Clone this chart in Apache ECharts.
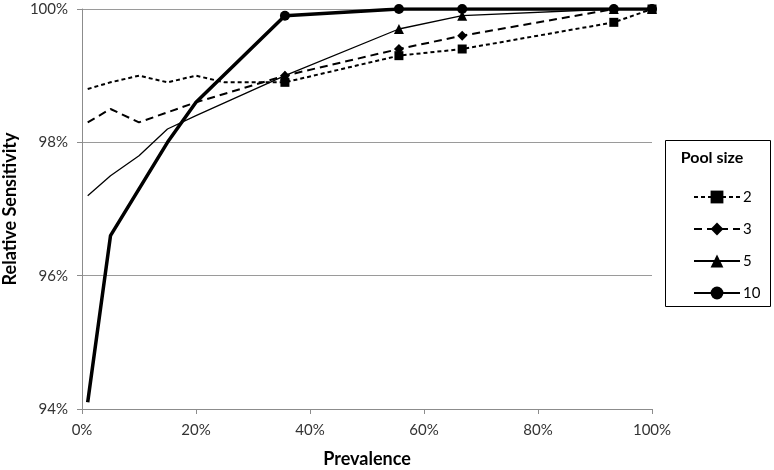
<!DOCTYPE html>
<html><head><meta charset="utf-8">
<script src="https://cdn.jsdelivr.net/npm/echarts@6/dist/echarts.min.js"></script>
<style>html,body{margin:0;padding:0;background:#fff}#c{width:774px;height:470px}</style>
</head><body><div id="c"></div>
<script>
const prevalence = [1, 5, 10, 15, 20, 25, 35.6, 55.6, 66.7, 93.3, 100];
const pool2  = [98.8, 98.9, 99.0, 98.9, 99.0, 98.9, 98.9, 99.3, 99.4, 99.8, 100];
const pool3  = [98.3, 98.5, 98.3, 98.45, 98.6, null, 99.0, 99.4, 99.6, 100, 100];
const pool5  = [97.2, 97.5, 97.8, 98.2, 98.4, null, 99.0, 99.7, 99.9, 100, 100];
const pool10 = [94.1, 96.6, null, 98.0, 98.6, null, 99.9, 100, 100, 100, 100];
const seriesNames = ['2', '3', '5', '10'];
const xTicks = [0, 20, 40, 60, 80, 100];
const yTicks = [94, 96, 98, 100];
const markerFrom = 6;

const FONT = "Lato, 'Open Sans', sans-serif";
function build(vals) {
  return vals.map((v, i) => v === null ? null : {
    value: [prevalence[i], v],
    symbol: i >= markerFrom ? undefined : 'none'
  }).filter(d => d !== null);
}
const chart = echarts.init(document.getElementById('c'), null, {renderer: 'canvas'});
const styles = [
  {data: pool2, symbol: 'rect', size: 9, width: 2, type: [4, 3], z: 5},
  {data: pool3, symbol: 'diamond', size: 10, width: 2, type: [8, 5], z: 3},
  {data: pool5, symbol: 'triangle', size: 10, width: 1.3, type: 'solid', z: 3},
  {data: pool10, symbol: 'circle', size: 10, width: 3.5, type: 'solid', z: 4}
];
chart.setOption({
  animation: false,
  grid: {left: 82, right: 122, top: 9, bottom: 61, containLabel: false, outerBoundsMode: 'none'},
  xAxis: {
    type: 'value', min: xTicks[0], max: xTicks[xTicks.length - 1], interval: xTicks[1] - xTicks[0],
    name: 'Prevalence', nameLocation: 'middle', nameGap: 41,
    nameTextStyle: {fontFamily: FONT, fontWeight: 'bold', fontSize: 18, color: '#000'},
    axisLine: {show: true, lineStyle: {color: '#8c8c8c'}},
    axisTick: {show: true, length: 5, lineStyle: {color: '#8c8c8c'}},
    axisLabel: {formatter: '{value}%', fontFamily: FONT, fontSize: 15, color: '#333', margin: 14},
    splitLine: {show: false}
  },
  yAxis: {
    type: 'value', min: yTicks[0], max: yTicks[yTicks.length - 1], interval: yTicks[1] - yTicks[0],
    name: 'Relative Sensitivity', nameLocation: 'middle', nameGap: 58, nameRotate: 90,
    nameTextStyle: {fontFamily: FONT, fontWeight: 'bold', fontSize: 18, color: '#000'},
    axisLine: {show: true, lineStyle: {color: '#8c8c8c'}},
    axisTick: {show: true, length: 5, lineStyle: {color: '#8c8c8c'}},
    axisLabel: {formatter: '{value}%', fontFamily: FONT, fontSize: 15, color: '#333', margin: 14},
    splitLine: {show: true, lineStyle: {color: '#9a9a9a', width: 1}}
  },
  legend: {
    orient: 'vertical', left: 688, top: 184,
    itemWidth: 46, itemHeight: 16, itemGap: 16,
    textStyle: {fontFamily: FONT, fontSize: 15, lineHeight: 16, color: '#000', padding: [0, 0, 0, -2]},
    data: seriesNames
  },
  graphic: [
    {type: 'rect', shape: {x: 665.5, y: 140.5, width: 105, height: 166},
     style: {fill: 'none', stroke: '#000', lineWidth: 1}},
    {type: 'text', x: 712, y: 158,
     style: {text: 'Pool size', fontFamily: FONT, fontWeight: 'bold', fontSize: 16, fill: '#000', align: 'center', verticalAlign: 'middle'}}
  ],
  series: styles.map((s, k) => ({
    name: seriesNames[k], type: 'line', data: build(s.data),
    symbol: s.symbol, symbolSize: s.size, showSymbol: true, z: s.z,
    connectNulls: true,
    lineStyle: {color: '#000', width: s.width, type: s.type},
    itemStyle: {color: '#000'}
  }))
});
</script></body></html>
